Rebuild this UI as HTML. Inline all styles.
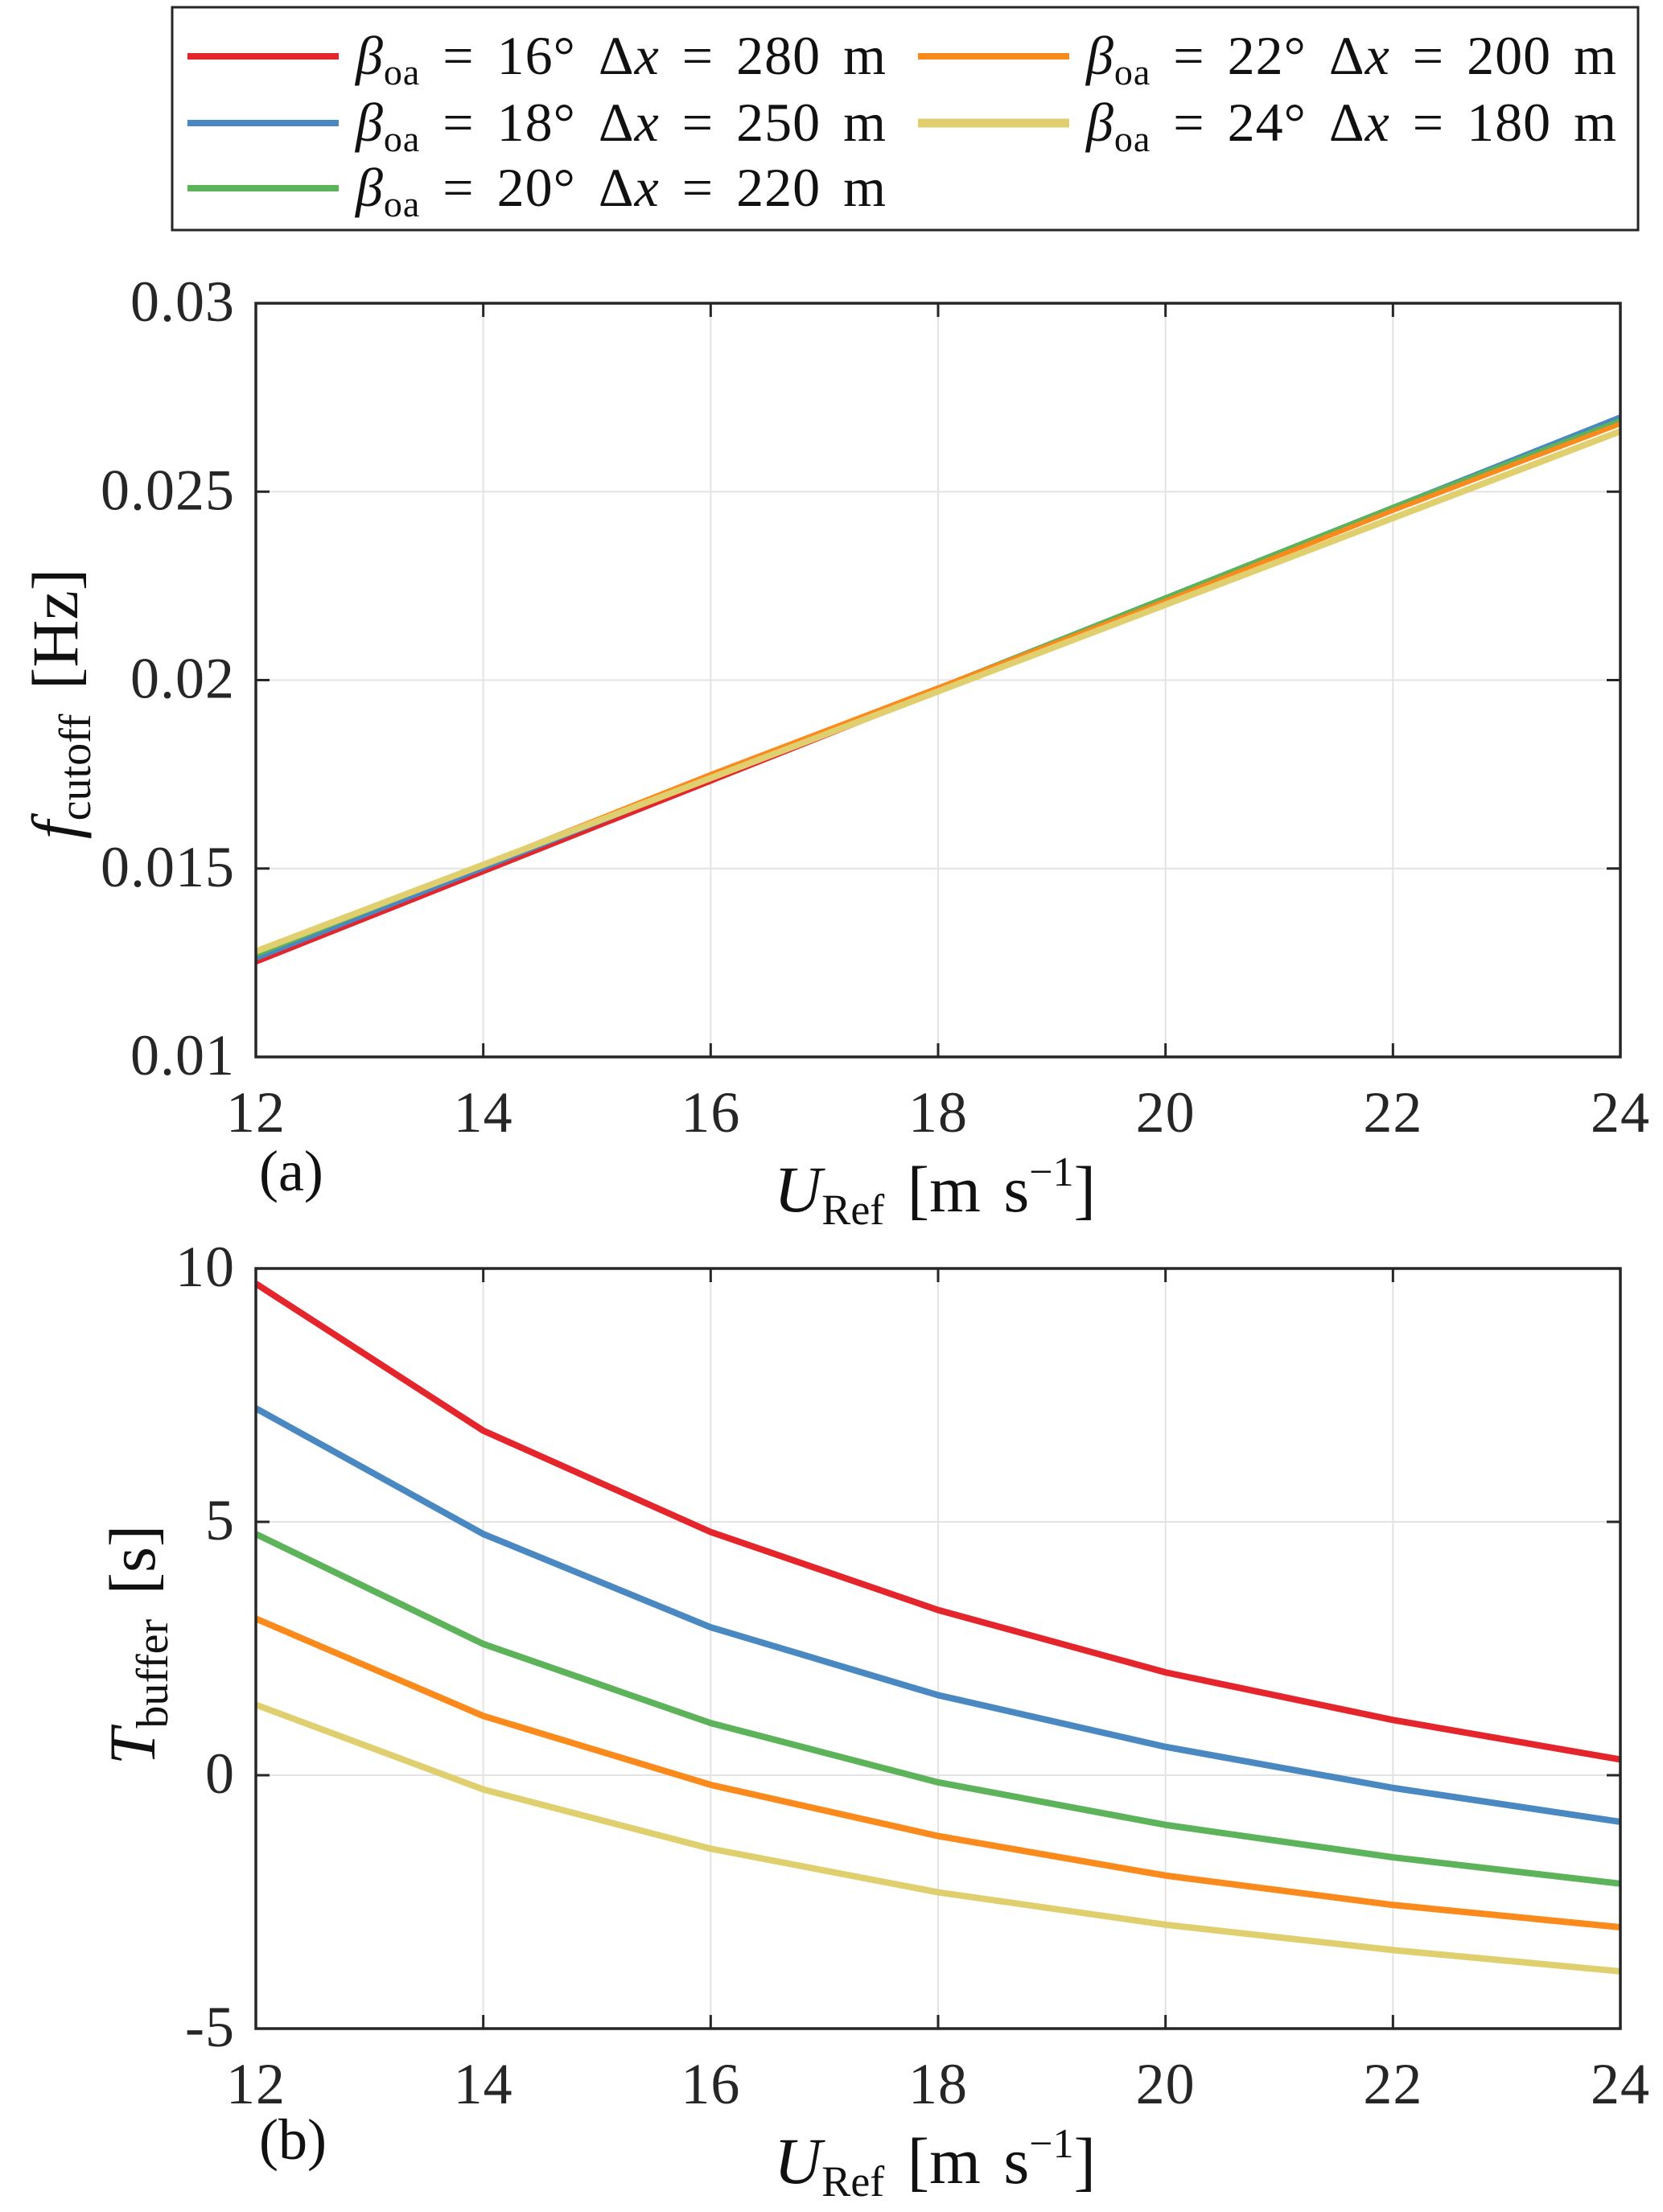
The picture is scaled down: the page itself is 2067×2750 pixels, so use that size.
<!DOCTYPE html>
<html><head><meta charset="utf-8"><style>
html,body{margin:0;padding:0;background:#fff}
svg{display:block;font-family:"Liberation Serif",serif;}
</style></head><body>
<svg id="fig" width="2067" height="2750" viewBox="0 0 2067 2750" xmlns="http://www.w3.org/2000/svg">
<rect x="0" y="0" width="2067" height="2750" fill="#fff"/>
<g id="legend"></g>
<g id="pa"></g>
<g id="pb"></g>
</svg>
<script>
const xCats = [12, 14, 16, 18, 20, 22, 24];
const xTickLabels = ["12","14","16","18","20","22","24"];
const seriesNames = ["16", "18", "20", "22", "24"];
const seriesDx = ["280", "250", "220", "200", "180"];
const fRed = [0.0125,0.0149,0.0173,0.0197,0.0221,0.0245,0.0270];
const fBlue = [0.0126,0.0150,0.0174,0.0198,0.0222,0.0246,0.0270];
const fGreen = [0.0127,0.0151,0.0174,0.0198,0.0222,0.0246,0.0269];
const fOrange = [0.0128,0.0151,0.0175,0.0198,0.0221,0.0245,0.0268];
const fYellow = [0.0128,0.0151,0.0174,0.0197,0.0220,0.0243,0.0266];
const tRed = [9.7,6.8,4.8,3.26,2.03,1.09,0.31];
const tBlue = [7.24,4.76,2.92,1.58,0.56,-0.25,-0.92];
const tGreen = [4.76,2.59,1.03,-0.14,-0.98,-1.62,-2.14];
const tOrange = [3.09,1.17,-0.19,-1.2,-1.98,-2.56,-3.0];
const tYellow = [1.39,-0.28,-1.45,-2.31,-2.95,-3.45,-3.87];
const fTicks = [0.01,0.015,0.02,0.025,0.03];
const fTickLabels = ["0.01","0.015","0.02","0.025","0.03"];
const tTicks = [-5,0,5,10];
const tTickLabels = ["-5","0","5","10"];

const colors = ["#e4262c","#4a88c2","#5cb35a","#fb8a1c","#e0cf6e"];
const NS = "http://www.w3.org/2000/svg";
function mk(tag, attrs, parent){const e=document.createElementNS(NS,tag);for(const k in attrs)e.setAttribute(k,attrs[k]);parent.appendChild(e);return e;}

const L=318,R=2014;
function sx(v){return L+(v-12)/(24-12)*(R-L);}

function panel(g, top, bot, ymin, ymax, ticks, tlabels, series, lw, ylabelParts, ylx, yly, panelLetter, letterY, xlabY, prefix){
  const sy=v=>bot-(v-ymin)/(ymax-ymin)*(bot-top);
  xCats.forEach((c,i)=>{
    const l=mk('line',{x1:sx(c),x2:sx(c),y1:top,y2:bot,stroke:'#e3e3e3','stroke-width':2},g);
    
    
  });
  ticks.forEach(t=>{
    const l=mk('line',{x1:L,x2:R,y1:sy(t),y2:sy(t),stroke:'#e3e3e3','stroke-width':2},g);
    
    
  });
  series.forEach((s,i)=>{
    const pts=s.map((v,j)=>sx(xCats[j])+','+sy(v)).join(' ');
    const p=mk('polyline',{points:pts,fill:'none',stroke:colors[i],'stroke-width':lw[i],'stroke-linejoin':'round'},g);
    
    
  });
  const b=mk('rect',{x:L,y:top,width:R-L,height:bot-top,fill:'none',stroke:'#262626','stroke-width':3.5},g);
  
  
  xCats.forEach((c,i)=>{
    mk('line',{x1:sx(c),x2:sx(c),y1:bot,y2:bot-17,stroke:'#262626','stroke-width':3},g);
    mk('line',{x1:sx(c),x2:sx(c),y1:top,y2:top+17,stroke:'#262626','stroke-width':3},g);
    const t=mk('text',{x:sx(c),y:bot+93,'font-size':72,'text-anchor':'middle',fill:'#262626','letter-spacing':1},g);
    t.textContent=xTickLabels[i];
    
    
  });
  ticks.forEach((v,i)=>{
    mk('line',{x1:L,x2:L+17,y1:sy(v),y2:sy(v),stroke:'#262626','stroke-width':3},g);
    mk('line',{x1:R,x2:R-17,y1:sy(v),y2:sy(v),stroke:'#262626','stroke-width':3},g);
    const t=mk('text',{x:L-26,y:sy(v)+22,'font-size':72,'text-anchor':'end',fill:'#262626','letter-spacing':1},g);
    t.textContent=tlabels[i];
    
    
  });
  const pl=mk('text',{x:322,y:letterY,'font-size':72,fill:'#111'},g);
  pl.textContent=panelLetter;
  
  
  const xl=mk('text',{x:1162,y:xlabY,'font-size':82,'text-anchor':'middle',fill:'#111','word-spacing':8},g);
  xl.innerHTML='<tspan font-style="italic">U</tspan><tspan font-size="54" dy="16">Ref</tspan><tspan dy="-16">  [m s</tspan><tspan font-size="52" dy="-32">−1</tspan><tspan dy="32">]</tspan>';
  
  
  const yl=mk('text',{x:0,y:0,'font-size':82,'text-anchor':'middle',fill:'#111','word-spacing':10,transform:`translate(${ylx},${yly}) rotate(-90)`},g);
  yl.innerHTML=ylabelParts;
  
  
}

panel(document.getElementById('pa'),377,1314,0.01,0.03,fTicks,fTickLabels,
  [fRed,fBlue,fGreen,fOrange,fYellow],[5,5,5,6,8],
  '<tspan font-style="italic">f</tspan><tspan font-size="56" dy="16">cutoff</tspan><tspan dy="-16">  [Hz]</tspan>',
  96,875,'(a)',1480,1506,'fcutoff');
panel(document.getElementById('pb'),1577,2522,-5,10,tTicks,tTickLabels,
  [tRed,tBlue,tGreen,tOrange,tYellow],[8,8,8,8,8],
  '<tspan font-style="italic">T</tspan><tspan font-size="56" dy="16">buffer</tspan><tspan dy="-16">  [s]</tspan>',
  192,2045,'(b)',2684,2714,'tbuffer');

const lg=document.getElementById('legend');
const box=mk('rect',{x:214,y:9,width:1822,height:277,fill:'#fff',stroke:'#262626','stroke-width':3},lg);


const pos=[[233,70],[233,153],[233,234],[1141,70],[1141,153]];
[0,1,2,3,4].forEach((i,k)=>{
  const [x,y]=pos[k];
  const ln=mk('line',{x1:x,x2:x+188,y1:y,y2:y,stroke:colors[i],'stroke-width':i===4?11:8},lg);
  
  
  const t=mk('text',{x:x+209,y:y+22,'font-size':68,fill:'#111','word-spacing':10,'letter-spacing':1},lg);
  t.innerHTML='<tspan font-style="italic">β</tspan><tspan font-size="46" dy="13">oa</tspan><tspan dy="-13"> = '+seriesNames[i]+'° Δ</tspan><tspan font-style="italic">x</tspan><tspan> = '+seriesDx[i]+' m</tspan>';
  
  
});
</script>
</body></html>
